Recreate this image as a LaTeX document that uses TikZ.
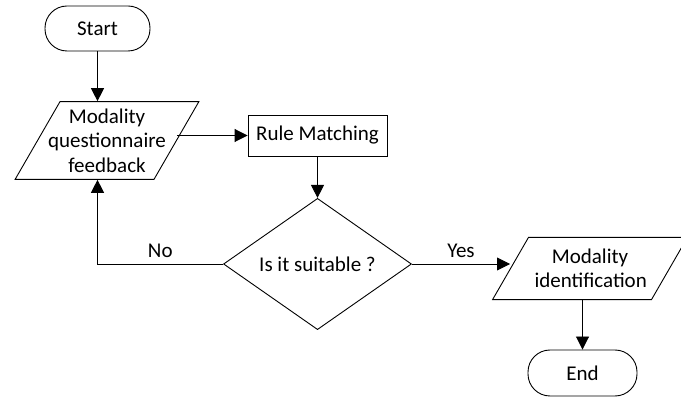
\documentclass[tikz,border=0pt]{standalone}
\usepackage{fontspec}
\setmainfont{Carlito}
\usetikzlibrary{shapes.geometric,arrows.meta}

\begin{document}
\begin{tikzpicture}[x=1pt, y=-1pt, line width=0.9pt,
    font=\fontsize{21}{24.5}\selectfont,
    >={Triangle[length=13pt,width=13pt]},
    term/.style={draw, rounded corners=22pt, minimum width=105pt, minimum height=45pt, inner sep=0pt},
    io/.style={draw, trapezium, trapezium left angle=60, trapezium right angle=120, align=center},
    proc/.style={draw, minimum width=139pt, minimum height=41pt, inner sep=0pt},
    dec/.style={draw, diamond, minimum width=188pt, minimum height=114pt, inner sep=0pt}]
  \useasboundingbox (0,0) rectangle (681,398);
  \node[term] (start) at (97.5, 28.5) {Start};
  \node[io, text width=118pt, inner xsep=-12pt, inner ysep=7pt] (feed) at (107, 140.5) {Modality\\questionnaire\\feedback};
  \node[proc] (rule) at (317.5, 135.5) {Rule Matching};
  \node[dec] (suit) at (317.5, 264) {Is it suitable ?};
  \node[io, text width=111pt, inner xsep=6pt, inner ysep=11.5pt] (ident) at (590, 268.5) {Modality\\identification};
  \node[term, minimum width=109pt, minimum height=46pt] (end) at (582.5, 373) {End};
  \draw[->] (start) -- (start |- feed.north);
  \draw[->] (feed.east |- rule) -- (rule);
  \draw[->] (rule) -- (suit);
  \draw[->] (suit.west) -- node[above=3pt] {No} (suit.west -| start) -- (start |- feed.south);
  \draw[->] (suit.east) -- node[above=3pt] {Yes} (suit.east -| ident.west);
  \draw[->] (ident.south -| end) -- (end);
\end{tikzpicture}
\end{document}
